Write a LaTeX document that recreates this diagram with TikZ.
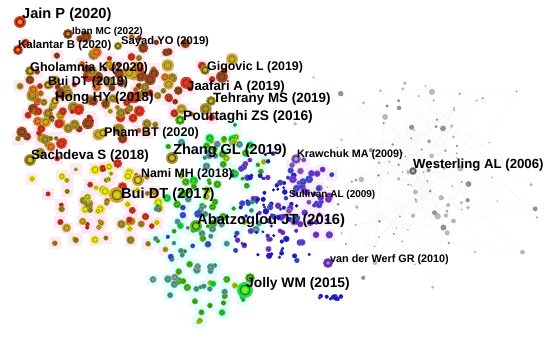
\documentclass[tikz,border=0pt]{standalone}
\usepackage{fontspec}
\setmainfont{Liberation Sans}
\definecolor{cred}{HTML}{D83A20}
\definecolor{corange}{HTML}{E07A20}
\definecolor{cbrown}{HTML}{9A4A20}
\definecolor{colive}{HTML}{A8902A}
\definecolor{cgold}{HTML}{C8A828}
\definecolor{cyellow}{HTML}{E8E818}
\definecolor{cyelgreen}{HTML}{B8D020}
\definecolor{cgreen}{HTML}{50C020}
\definecolor{cbgreen}{HTML}{20E040}
\definecolor{cteal}{HTML}{60A8A0}
\definecolor{cgteal}{HTML}{88A8A0}
\definecolor{cblue}{HTML}{2828E0}
\definecolor{cblue2}{HTML}{4858E0}
\definecolor{cpurple}{HTML}{8040E0}
\definecolor{cviolet}{HTML}{9868D8}
\definecolor{cgray}{HTML}{929292}
\definecolor{clgray}{HTML}{B8B8B8}
\definecolor{hpink}{HTML}{FFE8F3}
\definecolor{hcyan}{HTML}{E4FFFF}
\definecolor{hlpink}{HTML}{FAEEFA}
\pgfmathdeclarerandomlist{warm}{{cred}{corange}{cbrown}{colive}{cgold}{cred}{colive}{cbrown}}
\pgfmathdeclarerandomlist{yel}{{cyellow}{colive}{cgold}{cyellow}{cred}{cyelgreen}{colive}}
\pgfmathdeclarerandomlist{greens}{{cgreen}{cbgreen}{cgreen}{cyelgreen}{cteal}}
\pgfmathdeclarerandomlist{teals}{{cteal}{cgteal}{cgreen}{cteal}{cblue2}}
\pgfmathdeclarerandomlist{blues}{{cblue}{cblue2}{cblue}{cpurple}}
\pgfmathdeclarerandomlist{purples}{{cpurple}{cviolet}{cpurple}{cblue2}}
\pgfmathdeclarerandomlist{grays}{{cgray}{clgray}{cgray}{clgray}{clgray}}
\newif\ifhalopass
\newcommand\dotcloud[9]{%
 \foreach \k in {1,...,#1}{%
  \pgfmathsetmacro\px{#2+(rnd+rnd-1)*#4}%
  \pgfmathsetmacro\py{#3+(rnd+rnd-1)*#5}%
  \pgfmathsetmacro\pr{#7+rnd*(#8-#7)}%
  \pgfmathrandomitem{\pc}{#6}%
  \ifhalopass
    \fill[#9] (\px-6,\py-6) rectangle (\px+6,\py+6);
  \else
    \fill[\pc] (\px,\py) circle[radius=\pr pt];
    \draw[\pc!55!black, line width=0.5pt] (\px,\py) circle[radius=0.55*\pr pt];
  \fi
 }}
\newcommand\graycloud[5]{%
 \xdef\lx{#2}\xdef\ly{#3}%
 \foreach \k in {1,...,#1}{%
  \pgfmathsetmacro\px{#2+(rnd+rnd-1)*#4}%
  \pgfmathsetmacro\py{#3+(rnd+rnd-1)*#5}%
  \pgfmathsetmacro\pr{0.9+rnd*rnd*2.6}%
  \pgfmathrandomitem{\pc}{grays}%
  \ifhalopass
    \draw[black!4, line width=0.25pt] (\px,\py) -- (\lx,\ly);
  \else
    \fill[\pc] (\px,\py) circle[radius=\pr pt];
  \fi
  \xdef\lx{\px}\xdef\ly{\py}%
 }}
\newcommand\allclouds{%
 \pgfmathsetseed{4242}%
 \graycloud{120}{418}{178}{128}{112}%
 \dotcloud{120}{125}{92}{118}{58}{warm}{2.4}{6.2}{hpink}%
 \dotcloud{40}{50}{118}{42}{45}{warm}{2.2}{5.5}{hpink}%
 \dotcloud{70}{105}{205}{75}{55}{yel}{2}{5.2}{hpink}%
 \dotcloud{60}{215}{170}{55}{70}{greens}{2}{4.5}{hcyan}%
 \dotcloud{25}{205}{292}{45}{40}{greens}{2}{4}{hcyan}%
 \dotcloud{45}{200}{240}{65}{55}{teals}{2}{4}{hcyan}%
 \dotcloud{90}{272}{210}{52}{62}{blues}{1.5}{3.4}{fill=none}%
 \dotcloud{40}{310}{195}{30}{45}{purples}{1.8}{4}{hlpink}%
 \dotcloud{10}{330}{297}{14}{6}{blues}{1.5}{2.5}{fill=none}%
}
\newcommand\fnode[4]{%
 \fill[#4] (#1,#2) circle[radius=#3 pt];
 \draw[#4!50!black, line width=0.8pt] (#1,#2) circle[radius=0.62*#3 pt];
 \fill[#4!55!yellow] (#1,#2) circle[radius=0.35*#3 pt];
}
\tikzset{
 lab/.style={anchor=west, inner sep=0pt, font=\bfseries\fontsize{#1}{#1}\selectfont},
}
\begin{document}
\begin{tikzpicture}[x=1pt,y=-1pt]
\fill[white] (0,0) rectangle (550,345);
\useasboundingbox (0,0) rectangle (550,345);
\halopasstrue
\allclouds
\halopassfalse
\allclouds
\fnode{20}{22}{6}{cred}
\fnode{68}{34}{5}{cbrown}
\fnode{18}{50}{5}{cred}
\fnode{118}{46}{4}{colive}
\fnode{205}{70}{5}{colive}
\fnode{30}{71}{5}{colive}
\fnode{48}{85}{4.5}{colive}
\fnode{55}{101}{4.5}{cgold}
\fnode{211}{101}{5}{colive}
\fnode{180}{120}{5}{cgreen}
\fnode{103}{133}{5}{cgold}
\fnode{172}{158}{6}{colive}
\fnode{30}{160}{6}{colive}
\fnode{138}{180}{6}{cgold}
\fnode{117}{195}{8}{cgold}
\fnode{196}{226}{6}{cgreen}
\fnode{296}{159}{5}{cviolet}
\fnode{413}{171}{4}{cgray}
\fnode{328}{263}{5}{cpurple}
\fnode{250}{278}{5}{cgreen}
\fnode{245}{290}{8}{cbgreen}
\node[lab=14.6] (jain) at (22,15) {Jain P (2020)};
\node[lab=10] (iban) at (72,32) {Iban MC (2022)};
\node[lab=11.2] (sayad) at (121,42) {Sayad YO (2019)};
\node[lab=11.4] (kalantar) at (18,46) {Kalantar B (2020)};
\node[lab=12.4] (gigovic) at (207,67) {Gigovic L (2019)};
\node[lab=12.6] (gholamnia) at (30,68) {Gholamnia K (2020)};
\node[lab=12.5] (buidt19) at (48,82) {Bui DT (2019)};
\node[lab=13.2] (jaafari) at (187,87) {Jaafari A (2019)};
\node[lab=13.3] (hong) at (55,98) {Hong HY (2018)};
\node[lab=13.4] (tehrany) at (213,99) {Tehrany MS (2019)};
\node[lab=13.8] (pourtaghi) at (183,117) {Pourtaghi ZS (2016)};
\node[lab=12.6] (pham) at (104,133) {Pham BT (2020)};
\node[lab=14.5] (zhang) at (173,151) {Zhang GL (2019)};
\node[lab=10.8] (krawchuk) at (297,155) {Krawchuk MA (2009)};
\node[lab=13.4] (sachdeva) at (31,156) {Sachdeva S (2018)};
\node[lab=13.2] (westerling) at (413,165) {Westerling AL (2006)};
\node[lab=12.3] (nami) at (141,174) {Nami MH (2018)};
\node[lab=14.6] (buidt17) at (121,195) {Bui DT (2017)};
\node[lab=10] (sullivan) at (289,195) {Sullivan AL (2009)};
\node[lab=14.7] (abatzoglou) at (197,221) {Abatzoglou JT (2016)};
\node[lab=10.8] (werf) at (330,260) {van der Werf GR (2010)};
\node[lab=13.8] (jolly) at (246,284) {Jolly WM (2015)};
\end{tikzpicture}
\end{document}
